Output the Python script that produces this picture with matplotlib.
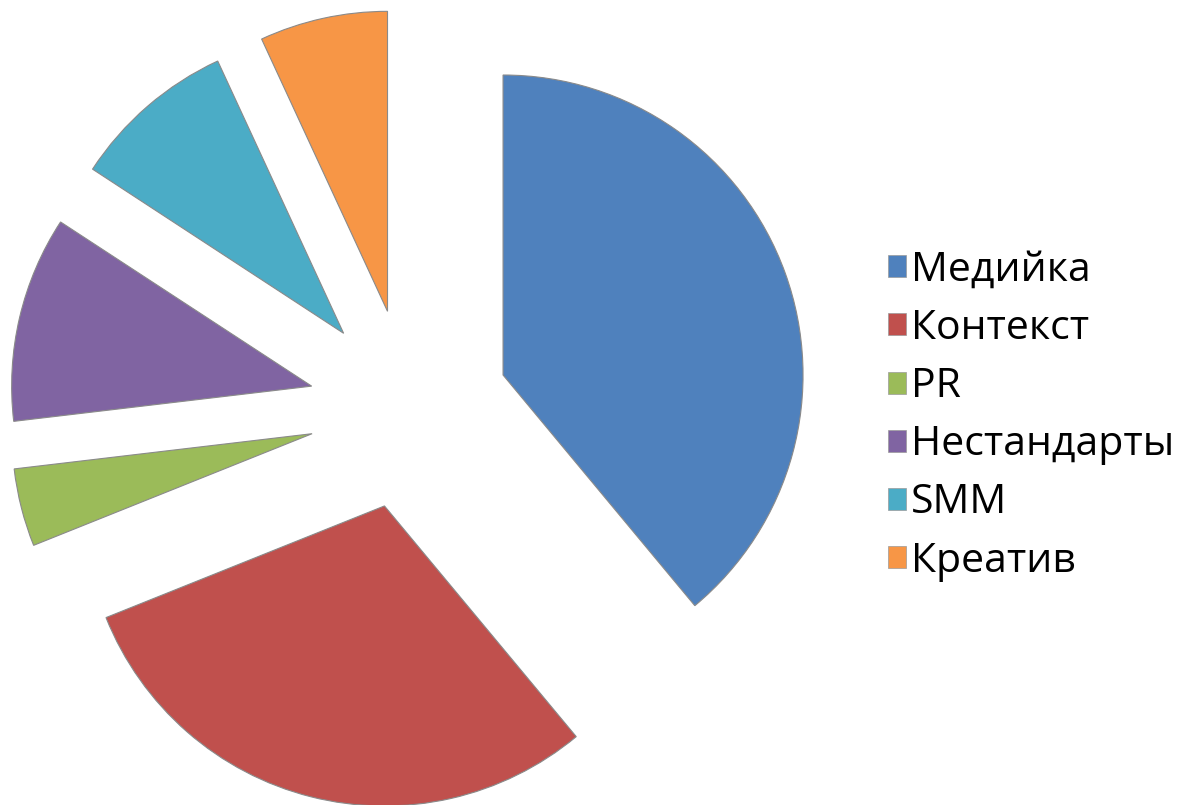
import matplotlib
matplotlib.use("Agg")
import matplotlib.pyplot as plt
from matplotlib.patches import Patch

categories = ["Медийка", "Контекст", "PR", "Нестандарты", "SMM", "Креатив"]
values = [39.0, 30.0, 4.2, 11.1, 8.9, 6.9]
colors = ["#4F81BD", "#C0504D", "#9BBB59", "#8064A2", "#4BACC6", "#F79646"]

W, H = 1184, 805
fig = plt.figure(figsize=(W / 100, H / 100), dpi=100)
ax = fig.add_axes([0, 0, 1, 1])

ax.pie(values, colors=colors, startangle=90, counterclock=False,
       radius=300, center=(409, H - 409), explode=[100] * len(values),
       wedgeprops=dict(edgecolor="#8a8a8a", linewidth=0.8), frame=True)
ax.set_xlim(0, W)
ax.set_ylim(0, H)
ax.set_aspect("equal")
ax.axis("off")

handles = [Patch(facecolor=c, edgecolor="#9a9a9a", linewidth=0.5) for c in colors]
fig.legend(handles, categories, loc="center left", bbox_to_anchor=(888 / W, 1 - 416 / H),
           frameon=False, prop={"family": "Open Sans", "size": 29.5},
           handlelength=0.45, handleheight=0.45, handletextpad=0.12,
           labelspacing=0.43, borderaxespad=0, borderpad=0)

fig.savefig("out.png", dpi=100)
